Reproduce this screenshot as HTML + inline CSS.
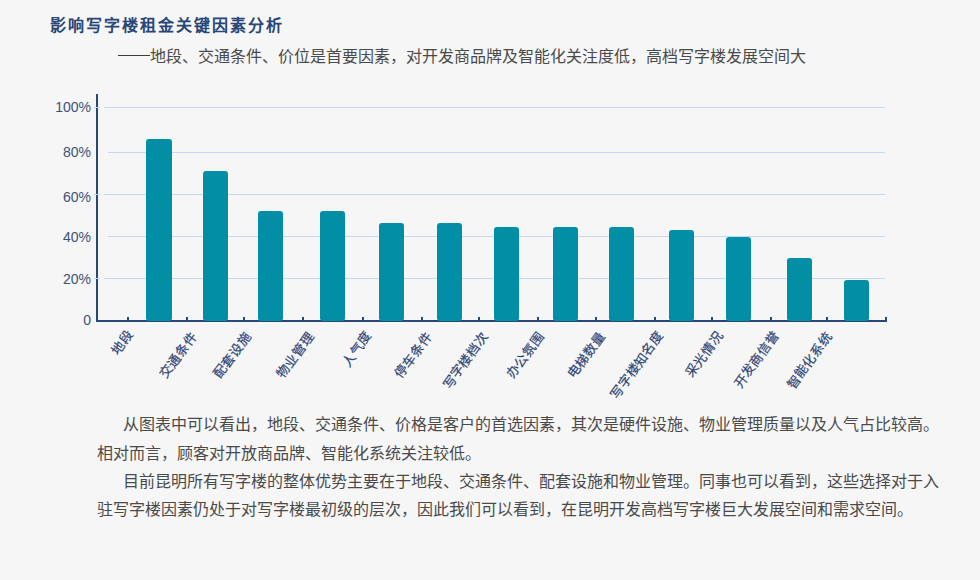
<!DOCTYPE html>
<html lang="zh-CN"><head><meta charset="utf-8"><style>
*{margin:0;padding:0;box-sizing:border-box}
html,body{width:980px;height:580px;overflow:hidden;background:#f6f6f6;font-family:"Liberation Sans",sans-serif}
.a{position:absolute;white-space:nowrap}
#title{left:50px;top:13px;font-size:16px;letter-spacing:2px;font-weight:bold;color:#284677;line-height:26px}
#dash{position:absolute;left:118px;top:55px;width:32px;height:1px;background:#3c3c3c}
#sub{left:150px;top:45px;font-size:16px;color:#4a4a4a;line-height:24px}
svg{position:absolute;left:0;top:0}
.yl{position:absolute;right:889px;font-size:14px;line-height:18px;color:#3f5078;white-space:nowrap}
.xl{position:absolute;font-size:13px;line-height:14px;letter-spacing:0.3px;color:#2e4474;-webkit-text-stroke:0.2px #2e4474;white-space:nowrap;transform-origin:100% 50%;transform:rotate(-54deg)}
.p{position:absolute;font-size:16px;line-height:20px;color:#4a4a4a;white-space:nowrap}
</style></head><body>
<div class="a" id="title">影响写字楼租金关键因素分析</div>
<div id="dash"></div>
<div class="a" id="sub">地段、交通条件、价位是首要因素，对开发商品牌及智能化关注度低，高档写字楼发展空间大</div>
<svg width="980" height="580" viewBox="0 0 980 580"><line x1="104" y1="107.5" x2="885" y2="107.5" stroke="#c3d8f5" stroke-width="1"/><line x1="108" y1="152.5" x2="885" y2="152.5" stroke="#c3d8f5" stroke-width="1"/><line x1="104" y1="194.5" x2="885" y2="194.5" stroke="#c3d8f5" stroke-width="1"/><line x1="108" y1="236.5" x2="885" y2="236.5" stroke="#c3d8f5" stroke-width="1"/><line x1="104" y1="278.5" x2="885" y2="278.5" stroke="#c3d8f5" stroke-width="1"/><rect x="96" y="94" width="2" height="228" fill="#2b4776"/><rect x="96" y="320" width="791" height="2" fill="#2b4776"/><line x1="94" y1="107.5" x2="100" y2="107.5" stroke="#c3d8f5" stroke-width="1"/><line x1="94" y1="194.5" x2="100" y2="194.5" stroke="#c3d8f5" stroke-width="1"/><line x1="94" y1="278.5" x2="100" y2="278.5" stroke="#c3d8f5" stroke-width="1"/><rect x="127" y="317" width="2" height="4" fill="#2b4776"/><rect x="186" y="317" width="2" height="4" fill="#2b4776"/><rect x="243" y="317" width="2" height="4" fill="#2b4776"/><rect x="302" y="317" width="2" height="4" fill="#2b4776"/><rect x="362" y="317" width="2" height="4" fill="#2b4776"/><rect x="421" y="317" width="2" height="4" fill="#2b4776"/><rect x="478" y="317" width="2" height="4" fill="#2b4776"/><rect x="537" y="317" width="2" height="4" fill="#2b4776"/><rect x="595" y="317" width="2" height="4" fill="#2b4776"/><rect x="654" y="317" width="2" height="4" fill="#2b4776"/><rect x="711" y="317" width="2" height="4" fill="#2b4776"/><rect x="770" y="317" width="2" height="4" fill="#2b4776"/><rect x="826" y="317" width="2" height="4" fill="#2b4776"/><rect x="885" y="317" width="2" height="4" fill="#2b4776"/><rect x="146" y="139" width="26" height="182" rx="3" ry="3" fill="#028ea4"/><rect x="203" y="171" width="25" height="150" rx="3" ry="3" fill="#028ea4"/><rect x="258" y="211" width="25" height="110" rx="3" ry="3" fill="#028ea4"/><rect x="320" y="211" width="25" height="110" rx="3" ry="3" fill="#028ea4"/><rect x="379" y="223" width="25" height="98" rx="3" ry="3" fill="#028ea4"/><rect x="437" y="223" width="25" height="98" rx="3" ry="3" fill="#028ea4"/><rect x="494" y="227" width="25" height="94" rx="3" ry="3" fill="#028ea4"/><rect x="553" y="227" width="25" height="94" rx="3" ry="3" fill="#028ea4"/><rect x="609" y="227" width="25" height="94" rx="3" ry="3" fill="#028ea4"/><rect x="669" y="230" width="25" height="91" rx="3" ry="3" fill="#028ea4"/><rect x="726" y="237" width="25" height="84" rx="3" ry="3" fill="#028ea4"/><rect x="787" y="258" width="25" height="63" rx="3" ry="3" fill="#028ea4"/><rect x="844" y="280" width="25" height="41" rx="3" ry="3" fill="#028ea4"/></svg>
<div class="yl" style="top:98.4px">100%</div><div class="yl" style="top:143.2px">80%</div><div class="yl" style="top:188.4px">60%</div><div class="yl" style="top:228px">40%</div><div class="yl" style="top:270px">20%</div><div class="yl" style="top:311.2px">0</div>
<div class="xl" style="right:849.50px;top:325.20px">地段</div><div class="xl" style="right:786.00px;top:327.10px">交通条件</div><div class="xl" style="right:731.50px;top:326.60px">配套设施</div><div class="xl" style="right:668.40px;top:326.50px">物业管理</div><div class="xl" style="right:611.00px;top:326.10px">人气度</div><div class="xl" style="right:550.70px;top:326.70px">停车条件</div><div class="xl" style="right:494.70px;top:327.10px">写字楼档次</div><div class="xl" style="right:439.30px;top:326.90px">办公氛围</div><div class="xl" style="right:377.60px;top:326.60px">电梯数量</div><div class="xl" style="right:319.60px;top:326.20px">写字楼知名度</div><div class="xl" style="right:259.80px;top:326.40px">采光情况</div><div class="xl" style="right:203.30px;top:325.80px">开发商信誉</div><div class="xl" style="right:150.20px;top:326.70px">智能化系统</div>
<div class="p" style="left:123px;top:414.6px">从图表中可以看出，地段、交通条件、价格是客户的首选因素，其次是硬件设施、物业管理质量以及人气占比较高。</div>
<div class="p" style="left:97px;top:443.5px">相对而言，顾客对开放商品牌、智能化系统关注较低。</div>
<div class="p" style="left:123px;top:471.5px">目前昆明所有写字楼的整体优势主要在于地段、交通条件、配套设施和物业管理。同事也可以看到，这些选择对于入</div>
<div class="p" style="left:97px;top:499.5px">驻写字楼因素仍处于对写字楼最初级的层次，因此我们可以看到，在昆明开发高档写字楼巨大发展空间和需求空间。</div>
</body></html>
